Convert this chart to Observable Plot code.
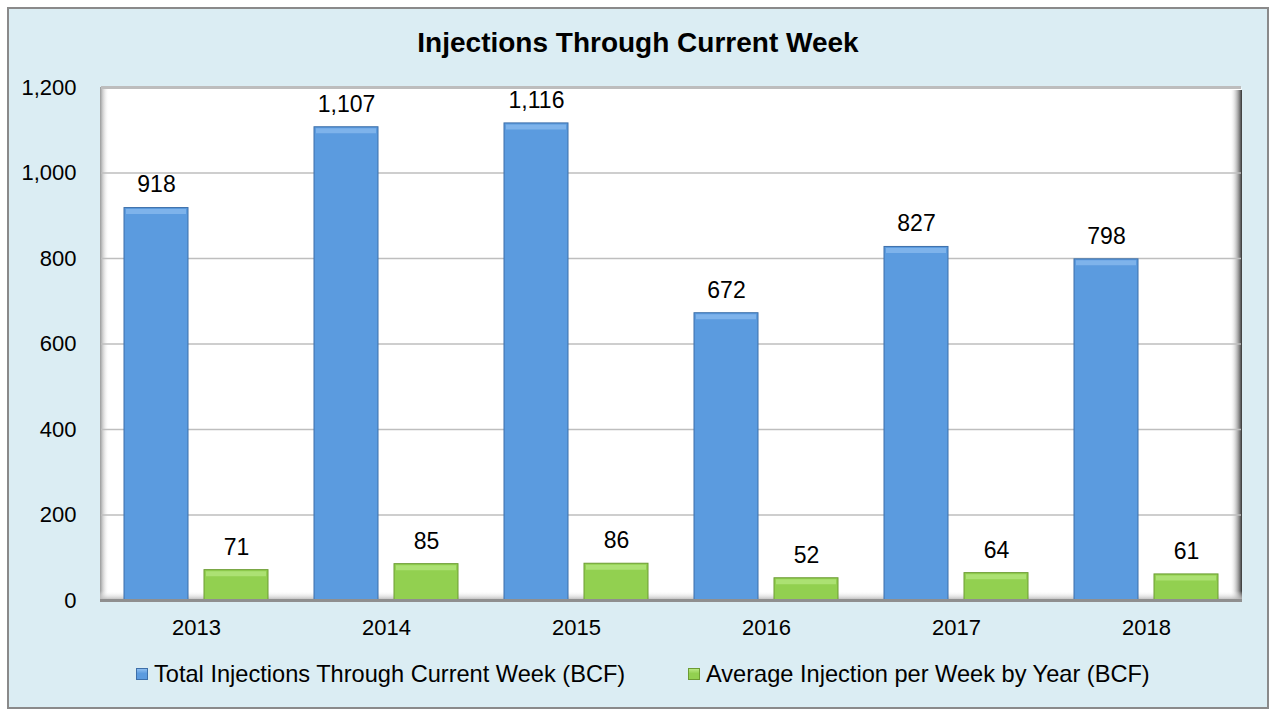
<!DOCTYPE html>
<html>
<head>
<meta charset="utf-8">
<script src="https://cdn.jsdelivr.net/npm/d3@7"></script>
<script src="https://cdn.jsdelivr.net/npm/@observablehq/plot@0.6"></script>
<style>
  html, body { margin: 0; padding: 0; width: 1276px; height: 716px; background: #ffffff; overflow: hidden; font-family: "Liberation Sans", Arial, sans-serif; }
  #panel { position: absolute; left: 7px; top: 7px; width: 1258px; height: 698px; border: 2px solid #8a8a8a; background: #DBEDF3; }
  #title { position: absolute; left: 0; top: 27px; width: 1276px; text-align: center; font-size: 28px; font-weight: bold; color: #000; line-height: 32px; }
  #chart { position: absolute; left: 0; top: 70px; }
  #legend { position: absolute; left: 0; top: 660px; width: 1276px; font-size: 23.6px; line-height: 28px; color: #000; }
  .item { position: absolute; top: 0; white-space: nowrap; }
  .sw { display: inline-block; width: 12px; height: 12px; margin-right: 6px; vertical-align: 2px; border: 1px solid; box-sizing: border-box; }
</style>
</head>
<body>
<div id="panel"></div>
<div id="title">Injections Through Current Week</div>
<div id="chart"></div>
<div id="legend"></div>
<script>
const years = ["2013", "2014", "2015", "2016", "2017", "2018"];
const totalInjections = [918, 1107, 1116, 672, 827, 798];
const avgPerWeek = [71, 85, 86, 52, 64, 61];
const seriesNames = ["Total Injections Through Current Week (BCF)", "Average Injection per Week by Year (BCF)"];
const yTicks = [0, 200, 400, 600, 800, 1000, 1200];

const fills = ["#5B9BDF", "#92D050"];
const highlights = ["#8DBEF0", "#B8E882"];
const strokes = ["#3D6FA9", "#6C9B33"];

const data = [];
years.forEach((yr, i) => {
  data.push({year: yr, series: seriesNames[0], value: totalInjections[i], k: 0});
  data.push({year: yr, series: seriesNames[1], value: avgPerWeek[i], k: 1});
});

const W = 1276, H = 580, mL = 100, mR = 34, mT = 17, mB = 50;

const plot = Plot.plot({
  width: W, height: H,
  marginLeft: mL, marginRight: mR, marginTop: mT, marginBottom: mB,
  style: {background: "transparent", fontFamily: "'Liberation Sans', Arial, sans-serif", fontSize: "22px", color: "#000", overflow: "visible"},
  fx: {domain: years, padding: 0, label: null, tickSize: 0, tickPadding: 19},
  x: {domain: seriesNames, paddingInner: 0.2, paddingOuter: 0.2875, axis: null},
  y: {domain: [0, 1200], ticks: yTicks, tickFormat: d3.format(","), tickSize: 0, tickPadding: 25, label: null},
  color: {domain: seriesNames, range: fills},
  marks: [
    Plot.frame({fill: "white", facet: "super"}),
    Plot.ruleY(yTicks.slice(1, -1), {stroke: "#BEBEBE", strokeWidth: 1.3}),
    Plot.ruleY([1200], {stroke: "#BDBDBD", strokeWidth: 3}),
    Plot.barY(data, {fx: "year", x: "series", y: "value", fill: "series", stroke: d => strokes[d.k], strokeWidth: 1}),
    Plot.tickY(data, {fx: "year", x: "series", y: "value", stroke: d => highlights[d.k], strokeWidth: 5, dy: 3.5, inset: 2, strokeOpacity: 0.7}),
    Plot.text(data, {fx: "year", x: "series", y: "value", text: d => d3.format(",")(d.value), dy: -23, fontSize: 23, fill: "#000"})
  ]
});

document.getElementById("chart").appendChild(plot);

// 3D wall shading (derived from plot dimensions)
const svg = d3.select(plot);
const defs = svg.insert("defs", ":first-child");
const lg = defs.append("linearGradient").attr("id", "leftwall").attr("x1", 0).attr("x2", 1).attr("y1", 0).attr("y2", 0);
lg.append("stop").attr("offset", "0%").attr("stop-color", "#9a9a9a");
lg.append("stop").attr("offset", "100%").attr("stop-color", "#ffffff").attr("stop-opacity", 0);
const rg = defs.append("linearGradient").attr("id", "rightwall").attr("x1", 0).attr("x2", 1).attr("y1", 0).attr("y2", 0);
rg.append("stop").attr("offset", "0%").attr("stop-color", "#ffffff").attr("stop-opacity", 0);
rg.append("stop").attr("offset", "100%").attr("stop-color", "#333333");
const fg = defs.append("linearGradient").attr("id", "floor").attr("x1", 0).attr("x2", 0).attr("y1", 0).attr("y2", 1);
fg.append("stop").attr("offset", "0%").attr("stop-color", "#ffffff").attr("stop-opacity", 0);
fg.append("stop").attr("offset", "100%").attr("stop-color", "#b5b5b5");

const x0 = mL, x1 = W - mR, y0 = mT, y1 = H - mB;
const deco = svg.insert("g", () => plot.querySelectorAll("g[aria-label='rule']")[0]);
deco.append("rect").attr("x", x0).attr("y", y0).attr("width", 9).attr("height", y1 - y0).attr("fill", "url(#leftwall)");
deco.append("rect").attr("x", x1 - 12).attr("y", y0 + 3).attr("width", 12).attr("height", y1 - y0 - 3).attr("fill", "url(#rightwall)");
deco.append("rect").attr("x", x0).attr("y", y1 - 9).attr("width", x1 - x0).attr("height", 9).attr("fill", "url(#floor)");
svg.append("rect").attr("x", x0).attr("y", y1 - 1).attr("width", x1 - x0).attr("height", 3).attr("fill", "#8f8f8f");

// Legend
const legend = document.getElementById("legend");
const lx = [136, 688];
seriesNames.forEach((name, i) => {
  const it = document.createElement("div");
  it.className = "item";
  it.style.left = lx[i] + "px";
  const sw = document.createElement("span");
  sw.className = "sw";
  sw.style.background = `linear-gradient(${highlights[i]} 0%, ${fills[i]} 45%, ${fills[i]} 100%)`;
  sw.style.borderColor = strokes[i];
  it.appendChild(sw);
  it.appendChild(document.createTextNode(name));
  legend.appendChild(it);
});
</script>
</body>
</html>
